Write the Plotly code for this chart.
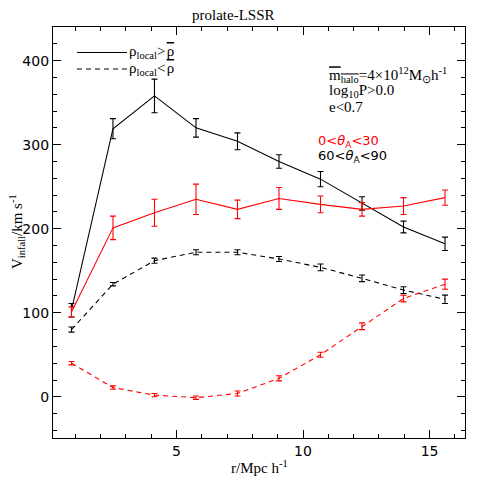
import plotly.graph_objects as go

# ---- data ----
r = [0.85, 2.49, 4.13, 5.77, 7.41, 9.05, 10.69, 12.33, 13.97, 15.61]

high_perp = [103, 319, 358, 320, 304, 280, 259, 230, 202, 182]
high_perp_err = [8, 12, 20, 11, 10, 8, 9, 8, 7, 8]

high_par = [101, 201, 219, 235, 223, 236, 229, 223, 227, 237]
high_par_err = [6, 14, 16, 18, 11, 13, 10, 8, 10, 9]

low_perp = [80, 134, 162, 172, 172, 164, 154, 141, 127, 116]
low_perp_err = [3, 2, 3, 3, 3, 3, 4, 4, 4, 5]

low_par = [40, 11, 2, -1, 4, 22, 50, 84, 117, 134]
low_par_err = [2, 2, 2, 2, 3, 3, 3, 4, 4, 6]

x_range = [0.12, 16.4]
y_range = [-49, 440]

SANS = "DejaVu Sans"
SERIF = "Liberation Serif"

# page has an 8px body margin; figure is sized to fit the window
OFF = 8
W = H = 491 - OFF
# desired plot box in screen pixels: left 53, right 465, top 27, bottom 438
L = 53 - OFF
T = 27 - OFF
R = W - (465 - OFF)
B = H - (438 - OFF)
pw, ph = W - L - R, H - T - B

def px(sx):
    return (sx - OFF - L) / pw

def py(sy):
    return ((H - (sy - OFF)) - B) / ph

fig = go.Figure()

def add(y, err, color, dash):
    fig.add_trace(go.Scatter(
        x=r, y=y, mode="lines",
        line=dict(color=color, width=1.1, dash=dash),
        error_y=dict(type="data", array=err, visible=True, color=color,
                     thickness=1.1, width=3),
        showlegend=False, hoverinfo="skip"))

add(high_perp, high_perp_err, "black", "solid")
add(high_par, high_par_err, "red", "solid")
add(low_perp, low_perp_err, "black", "5px,4px")
add(low_par, low_par_err, "red", "5px,4px")

axis_common = dict(
    showgrid=False, zeroline=False, showline=True, linecolor="black",
    linewidth=1.2, mirror="allticks", ticks="inside", ticklen=8,
    tickcolor="black", tickwidth=1,
    tickfont=dict(family=SANS, size=14, color="black"),
)

fig.update_xaxes(range=x_range, tick0=0, dtick=5,
                 minor=dict(dtick=1, ticks="inside", ticklen=4,
                            tickcolor="black"),
                 **axis_common)
fig.update_yaxes(range=y_range, tick0=0, dtick=100,
                 minor=dict(dtick=20, ticks="inside", ticklen=4,
                            tickcolor="black"),
                 **axis_common)

OV = "<span style='text-decoration:overline'>%s</span>"

annotations = [
    dict(text="prolate-LSSR", x=233, y=15, font=dict(family=SERIF, size=15)),
    dict(text="r/Mpc h<sup>-1</sup>", x=259, y=467, font=dict(family=SERIF, size=15)),
    dict(text="V<sub>infall</sub>/km s<sup>-1</sup>", x=17, y=232,
         font=dict(family=SERIF, size=15), textangle=-90),
    dict(text="ρ<sub>local</sub>&gt;\u200a" + OV % "ρ", x=127, y=52, xanchor="left",
         font=dict(family=SERIF, size=15)),
    dict(text="ρ<sub>local</sub>&lt;\u200a" + OV % "ρ", x=127, y=69, xanchor="left",
         font=dict(family=SERIF, size=15)),
    dict(text=OV % "m<sub>halo</sub>" + "=4×10<sup>12</sup>M<sub>⊙</sub>h<sup>-1</sup>",
         x=327, y=75, xanchor="left", font=dict(family=SERIF, size=15)),
    dict(text="log<sub>10</sub>P&gt;0.0", x=327, y=91, xanchor="left",
         font=dict(family=SERIF, size=15)),
    dict(text="e&lt;0.7", x=327, y=107, xanchor="left",
         font=dict(family=SERIF, size=15)),
    dict(text="0&lt;<i>θ</i><sub>A</sub>&lt;30", x=316, y=141, xanchor="left",
         font=dict(family=SANS, size=13, color="red")),
    dict(text="60&lt;<i>θ</i><sub>A</sub>&lt;90", x=316, y=157, xanchor="left",
         font=dict(family=SANS, size=13, color="black")),
]
ann_list = []
for a in annotations:
    f = dict(color="black")
    f.update(a["font"])
    ann_list.append(dict(
        xref="paper", yref="paper", showarrow=False,
        xanchor=a.get("xanchor", "center"), yanchor="middle",
        text=a["text"], font=f, textangle=a.get("textangle", 0),
        x=px(a["x"]), y=py(a["y"])))

shapes = [
    dict(type="line", xref="paper", yref="paper", x0=px(77), x1=px(127),
         y0=py(52.5), y1=py(52.5), line=dict(color="black", width=1.1)),
    dict(type="line", xref="paper", yref="paper", x0=px(77), x1=px(127),
         y0=py(69), y1=py(69), line=dict(color="black", width=1.1, dash="5px,4px")),
]

fig.update_layout(
    width=W, height=H,
    margin=dict(l=L, r=R, t=T, b=B, autoexpand=False),
    paper_bgcolor="white", plot_bgcolor="white",
    annotations=ann_list, shapes=shapes,
    showlegend=False,
)

fig.write_html("out.html")
